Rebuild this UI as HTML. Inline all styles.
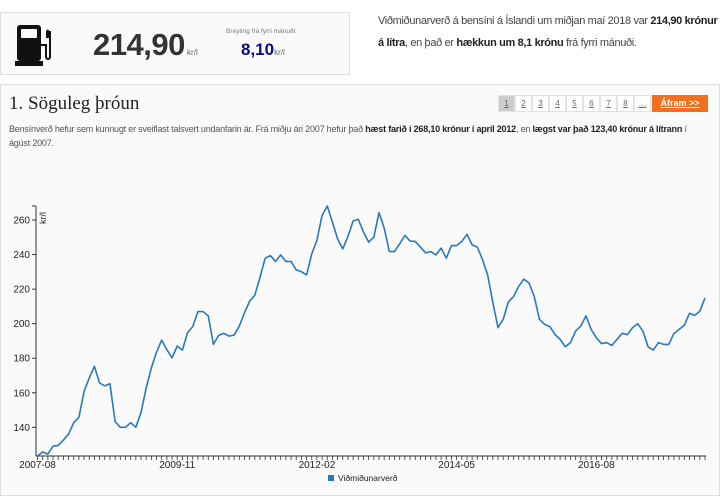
<!DOCTYPE html>
<html><head><meta charset="utf-8">
<style>
*{box-sizing:border-box;margin:0;padding:0}
body{width:720px;height:499px;background:#fff;font-family:"Liberation Sans",sans-serif;position:relative;overflow:hidden;color:#333}
.box{position:absolute;border:1px solid #ddd;background:#fafafa}
.abs{position:absolute;white-space:nowrap}
.pg{position:absolute;top:95px;height:17px;width:17px;border:1px solid #e3e3e3;background:#fff;font-size:8px;color:#666;text-align:center;line-height:15px;text-decoration:underline}
</style></head><body>
<div class="box" style="left:0;top:12px;width:350px;height:63px">
  <svg class="abs" style="left:14px;top:10px" width="40" height="44" viewBox="0 0 40 44">
    <rect x="2" y="2" width="24" height="36" rx="3" fill="#111"/>
    <rect x="6" y="6" width="16" height="9" rx="1" fill="#fafafa"/>
    <rect x="0" y="38" width="28" height="5" fill="#111"/>
    <path d="M26 22 h5 v12 a2 2 0 0 0 4 0 V10 l-3 -3" stroke="#111" stroke-width="2" fill="none"/>
    <rect x="31" y="8" width="5" height="7" fill="#111"/>
  </svg>
  <div class="abs" style="left:92px;top:14px;font-size:31px;font-weight:bold;color:#333;letter-spacing:-0.5px">214,90<span style="font-size:8px;font-weight:normal;color:#666;letter-spacing:0"> kr/l</span></div>
  <div class="abs" style="left:225px;top:15px;font-size:6.5px;color:#777">Breyting frá fyrri mánuði:</div>
  <div class="abs" style="left:240px;top:27px;font-size:17px;font-weight:bold;color:#0a0a80">8,10<span style="font-size:8px;font-weight:normal;color:#666">kr/l</span></div>
</div>
<div class="abs" style="left:378px;top:10px;font-size:11px;letter-spacing:-0.35px;line-height:22px;color:#444;white-space:normal;width:340px">Viðmiðunarverð á bensíni á Íslandi um miðjan maí 2018 var <b style="color:#222">214,90 krónur á lítra</b>, en það er <b style="color:#222">hækkun um 8,1 krónu</b> frá fyrri mánuði.</div>

<div class="box" style="left:0;top:84px;width:720px;height:412px"></div>
<div class="abs" style="left:9px;top:93px;font-family:'Liberation Serif',serif;font-size:19px;color:#222">1. Söguleg þróun</div>
<div>
<div class="pg" style="left:498px;background:#ccc">1</div>
<div class="pg" style="left:515px">2</div>
<div class="pg" style="left:532px">3</div>
<div class="pg" style="left:549px">4</div>
<div class="pg" style="left:566px">5</div>
<div class="pg" style="left:583px">6</div>
<div class="pg" style="left:600px">7</div>
<div class="pg" style="left:617px">8</div>
<div class="pg" style="left:634px">…</div>
<div class="pg" style="left:652px;width:56px;background:#f07020;border-color:#f07020;color:#fff;font-weight:bold;font-size:9px">Áfram &gt;&gt;</div>
</div>
<div class="abs" style="left:9px;top:122px;width:695px;white-space:normal;font-size:9px;letter-spacing:-0.2px;line-height:14px;color:#555">Bensínverð hefur sem kunnugt er sveiflast talsvert undanfarin ár. Frá miðju ári 2007 hefur það <b style="color:#222">hæst farið í 268,10 krónur í apríl 2012</b>, en <b style="color:#222">lægst var það 123,40 krónur á lítrann</b> í ágúst 2007.</div>

<svg id="chart" class="abs" style="left:0;top:0" width="720" height="499"></svg>
<script>
const startYear = 2007, startMonth = 8;
const prices = [123.4,125.8,124.5,129.1,129.5,132.6,136.1,142.7,145.8,160.8,168.5,175.3,165.6,164,165.2,143.3,140,140,142.7,140,148.5,162.7,174.4,183.5,190.5,185,180.2,187,184.7,194.8,198.3,207,207,204.5,188,193.2,194.4,192.8,193.4,198.6,206.4,213,216.5,226.8,237.9,239.4,236,239.8,236,236,231.1,230.1,228.2,240.4,248.2,262.7,268.1,258.8,249.1,243.3,250.5,259.4,260.4,253,247.2,250.1,264.3,255.3,241.7,241.7,246.2,251.1,247.8,247.6,244.3,241,241.7,239.8,243.7,237.9,245.2,245.2,247.6,251.7,245.6,244.3,237.1,228.2,212.2,197.7,202.5,212.6,215.7,221.6,225.8,223.5,215.7,202.5,199.6,198.3,193.8,190.9,186.6,189,195.7,198.6,204.5,196.7,191.8,188.5,189,187.4,190.9,194.4,193.6,197.7,200,195.7,186.6,184.7,189,188,188,194.4,196.7,199,206,204.8,207.2,214.9];
const yTicks = [140,160,180,200,220,240,260];
const xLabelIdx = [0,27,54,81,108];
const svg = document.getElementById('chart');
const NS='http://www.w3.org/2000/svg';
const x0=37.5, x1=705, yTop=206, yBot=456;
const yMin=Math.min(...prices), yMax=Math.max(...prices);
const xs=i=>x0+(x1-x0)*i/(prices.length-1);
const ys=v=>yBot-(v-yMin)/(yMax-yMin)*(yBot-yTop);
function mk(t,a){const e=document.createElementNS(NS,t);for(const k in a)e.setAttribute(k,a[k]);svg.appendChild(e);return e;}
function lbl(i){const m=startMonth-1+i;const y=startYear+Math.floor(m/12);const mm=m%12+1;return y+'-'+(mm<10?'0':'')+mm;}
let e=mk('line',{x1:36,y1:yTop,x2:36,y2:yBot,stroke:'#333','stroke-width':1});


e=mk('line',{x1:36,y1:yBot,x2:x1+1,y2:yBot,stroke:'#333','stroke-width':1});


mk('line',{x1:32,y1:yTop,x2:36,y2:yTop,stroke:'#333'});
yTicks.forEach(v=>{
  mk('line',{x1:32,y1:ys(v),x2:36,y2:ys(v),stroke:'#333'});
  const t=mk('text',{x:30,y:ys(v)+3.5,'text-anchor':'end','font-size':'10','fill':'#222','font-family':'Liberation Sans, sans-serif'});
  t.textContent=v;
  
  
});
const yt=mk('text',{transform:'translate(46,212) rotate(-90)','text-anchor':'end','font-size':'9','fill':'#222','font-family':'Liberation Sans, sans-serif'});
yt.textContent='kr/l';


prices.forEach((p,i)=>{mk('line',{x1:xs(i),y1:yBot,x2:xs(i),y2:yBot+4,stroke:'#333','stroke-width':0.8});});
xLabelIdx.forEach(i=>{
  const t=mk('text',{x:xs(i),y:468,'text-anchor':'middle','font-size':'10','fill':'#222','font-family':'Liberation Sans, sans-serif'});
  t.textContent=lbl(i);
  
  
});
const line=mk('polyline',{points:prices.map((p,i)=>xs(i).toFixed(2)+','+ys(p).toFixed(2)).join(' '),fill:'none',stroke:'#2a78c0','stroke-width':1.6,'stroke-linejoin':'round'});


const ls=mk('rect',{x:328,y:475,width:6,height:6,fill:'#2a78c0'});


const lt=mk('text',{x:338,y:481,'font-size':'8.5','fill':'#222','font-family':'Liberation Sans, sans-serif'});
lt.textContent='Viðmiðunarverð';


</script>
</body></html>
